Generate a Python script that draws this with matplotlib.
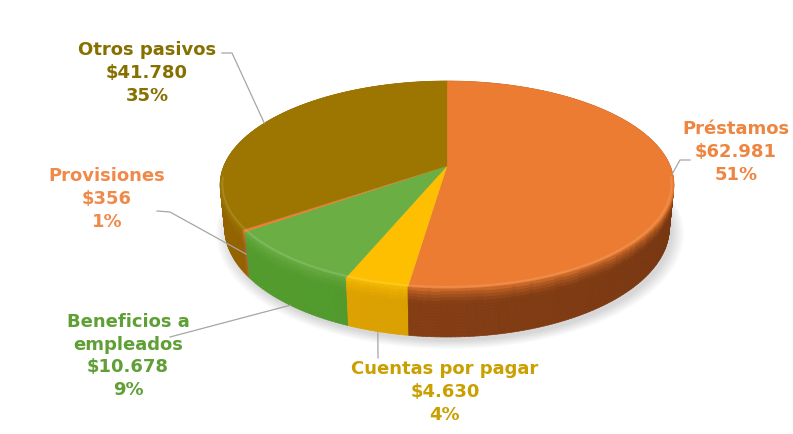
import numpy as np
import matplotlib.pyplot as plt
from matplotlib.collections import PolyCollection
from matplotlib.colors import to_rgb

# pasivos (millones) en el orden de las porciones, en sentido horario desde arriba
categorias = ["Préstamos", "Cuentas por pagar", "Beneficios a\nempleados", "Provisiones", "Otros pasivos"]
valores = [62981, 4630, 10678, 356, 41780]
porcentajes = ["51%", "4%", "9%", "1%", "35%"]

colores = ["#EB7C31", "#FDBF00", "#6BAE44", "#ED7D31", "#9C7600"]
colores_lado = ["#7E3A12", "#D09800", "#4C9029", "#A85520", "#885C00"]
colores_texto = ["#EE8540", "#C9A000", "#5F9F35", "#F08A4B", "#857000"]

# posicion del bloque de texto y arranque de la linea guia (pixeles)
pos_texto = [(736, 152), (445, 392), (128, 356), (107, 199), (147, 73)]
guias = [[(690, 160), (680, 160)], [(378, 358)], [(170, 337)],
         [(157, 211), (170, 212)], [(222, 53), (232, 53)]]
z_guia = [0.0, -1.0, -1.0, -0.5, 0.0]   # fraccion del alto de la torta

# camara de la torta 3D
ELEV = np.radians(26.7)
DIST = 4.96
ESCALA = 1107
CX, CY = 447, 166
ALTO = 0.217


def proyectar(x, y, z):
    prof = DIST + y * np.cos(ELEV) - z * np.sin(ELEV)
    px = CX + ESCALA * x / prof
    py = CY - ESCALA * (y * np.sin(ELEV) + z * np.cos(ELEV)) / prof
    return px, py


def mezclar(c1, c2, t):
    c1, c2 = np.array(c1), np.array(c2)
    return tuple(np.clip(c1 * (1 - t) + c2 * t, 0, 1))


fig = plt.figure(figsize=(7.93, 4.34), dpi=100)
ax = fig.add_axes([0, 0, 1, 1])
ax.set_xlim(0, 793)
ax.set_ylim(434, 0)
ax.axis("off")

total = sum(valores)
fracs = np.array(valores) / total
inicios = 90 - 360 * np.concatenate([[0], np.cumsum(fracs)[:-1]])
fines = inicios - 360 * fracs

# sombra suave debajo
t = np.linspace(0, 2 * np.pi, 300)
for esc in np.linspace(1.05, 1.0, 8):
    sx, sy = proyectar(esc * np.cos(t), esc * np.sin(t), -ALTO)
    ax.fill(sx + 3, sy + 4, color="#000000", alpha=0.018, lw=0, zorder=1)

# paredes laterales
quads, cols, orden = [], [], []
niveles = np.linspace(0, -ALTO, 17)
for a0, a1, c, cl in zip(inicios, fines, colores, colores_lado):
    base = to_rgb(c)
    n = max(2, int(abs(a1 - a0)))
    angs = np.radians(np.linspace(a0, a1, n + 1))
    for i in range(n):
        th0, th1 = angs[i], angs[i + 1]
        thm = 0.5 * (th0 + th1)
        k = 1 + 0.08 * np.cos(thm + np.radians(150))
        lado = tuple(np.clip(np.array(to_rgb(cl)) * k, 0, 1))
        for j in range(len(niveles) - 1):
            z0, z1 = niveles[j], niveles[j + 1]
            f = min(1.0, (-0.5 * (z0 + z1) / ALTO) / 0.3)
            col = mezclar(base, lado, f ** 0.5)
            p = [proyectar(np.cos(th0), np.sin(th0), z0), proyectar(np.cos(th1), np.sin(th1), z0),
                 proyectar(np.cos(th1), np.sin(th1), z1), proyectar(np.cos(th0), np.sin(th0), z1)]
            quads.append(p)
            cols.append(col)
            orden.append(-np.sin(thm))
idx = np.argsort(orden)
ax.add_collection(PolyCollection([quads[i] for i in idx], facecolors=[cols[i] for i in idx],
                                 edgecolors=[cols[i] for i in idx], linewidths=0.5, zorder=2))

# caras superiores
for a0, a1, c in zip(inicios, fines, colores):
    angs = np.radians(np.linspace(a0, a1, max(3, int(abs(a1 - a0)) * 2)))
    xs, ys = proyectar(np.cos(angs), np.sin(angs), 0)
    px = np.concatenate([[CX], xs])
    py = np.concatenate([[CY], ys])
    ax.fill(px, py, color=c, lw=0.2, ec=c, zorder=3)
    # brillo del bisel en el borde delantero
    frente = np.sin(angs) < -0.1
    if frente.sum() > 1:
        bx, by = proyectar(0.99 * np.cos(angs[frente]), 0.99 * np.sin(angs[frente]), 0)
        ax.plot(bx, by, color=mezclar(to_rgb(c), (1, 1, 1), 0.25), lw=1.4, alpha=0.5,
                solid_capstyle="butt", zorder=4)

# etiquetas y lineas guia
for i in range(len(valores)):
    medio = np.radians(0.5 * (inicios[i] + fines[i]))
    ex, ey = proyectar(np.cos(medio), np.sin(medio), z_guia[i] * ALTO)
    pts = guias[i] + [(ex, ey)]
    ax.plot([p[0] for p in pts], [p[1] for p in pts], color="#A6A6A6", lw=0.9, zorder=5)
    monto = "${:,}".format(valores[i]).replace(",", ".")
    ax.text(pos_texto[i][0], pos_texto[i][1], f"{categorias[i]}\n{monto}\n{porcentajes[i]}",
            ha="center", va="center", fontsize=13, fontweight="bold", family="DejaVu Sans",
            color=colores_texto[i], linespacing=1.35, zorder=6)

fig.savefig("out.png", dpi=100, facecolor="white")
